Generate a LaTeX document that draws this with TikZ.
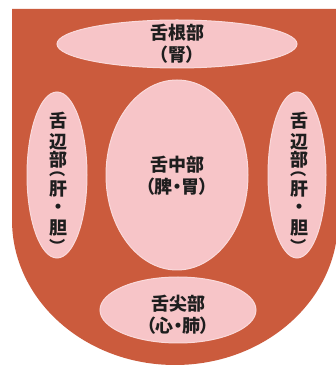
\documentclass[tikz,border=0pt]{standalone}
\usepackage{fontspec}
\newfontfamily\jp{Noto Sans CJK JP}
\newfontfamily\jpp[RawFeature=+palt]{Noto Sans CJK JP}
\definecolor{tongue}{HTML}{CB5B3D}
\definecolor{zone}{HTML}{F7C5C8}
\definecolor{rim}{HTML}{FADADB}
\definecolor{ink}{HTML}{1E1E1E}
\begin{document}
\begin{tikzpicture}[x=1pt,y=1pt,
  zonefill/.style={fill=zone,draw=rim,line width=1pt},
  lbl/.style={text=ink,font=\jp\bfseries\fontsize{18}{22}\selectfont,align=center,inner sep=0pt},
  vch/.style={text=ink,font=\jp\bfseries\fontsize{18}{18}\selectfont,inner sep=0pt,anchor=center},
  vpar/.style={text=ink,font=\jpp\bfseries\fontsize{16}{16}\selectfont,inner sep=0pt,anchor=center,rotate=-90}]
\useasboundingbox (0,0) rectangle (336,367);
\fill[white] (0,0) rectangle (336,367);
% tongue body
\fill[tongue] (12,358) -- (338,358) -- (338,147)
  arc[start angle=0,end angle=-180,x radius=163,y radius=145] -- cycle;
% zones
\draw[zonefill] (177,323) ellipse[x radius=120,y radius=24];
\draw[zonefill] (57,192) ellipse[x radius=30,y radius=83];
\draw[zonefill] (177,192) ellipse[x radius=71,y radius=95];
\draw[zonefill] (297,192) ellipse[x radius=29,y radius=83];
\draw[zonefill] (178,57) ellipse[x radius=78,y radius=33];
% labels
\node[lbl] (root) at (177,323) {舌根部\\{\jpp（腎）}};
\node[lbl] (mid) at (177,191) {舌中部\\{\jpp（脾・胃）}};
\node[lbl] (tip) at (178,52) {舌尖部\\{\jpp（心・肺）}};
\foreach \c/\yy [count=\i] in {舌/246,辺/225,部/207,肝/178,・/158,胆/139}{
  \node[vch] (L\i) at (58,\yy) {\c};
  \node[vch] (R\i) at (299,\yy) {\c};
}
\node[vpar] (Lopen) at (58,194) {（};
\node[vpar] (Ropen) at (299,194) {（};
\node[vpar] (Lclose) at (58,124) {）};
\node[vpar] (Rclose) at (299,124) {）};
\end{tikzpicture}
\end{document}
